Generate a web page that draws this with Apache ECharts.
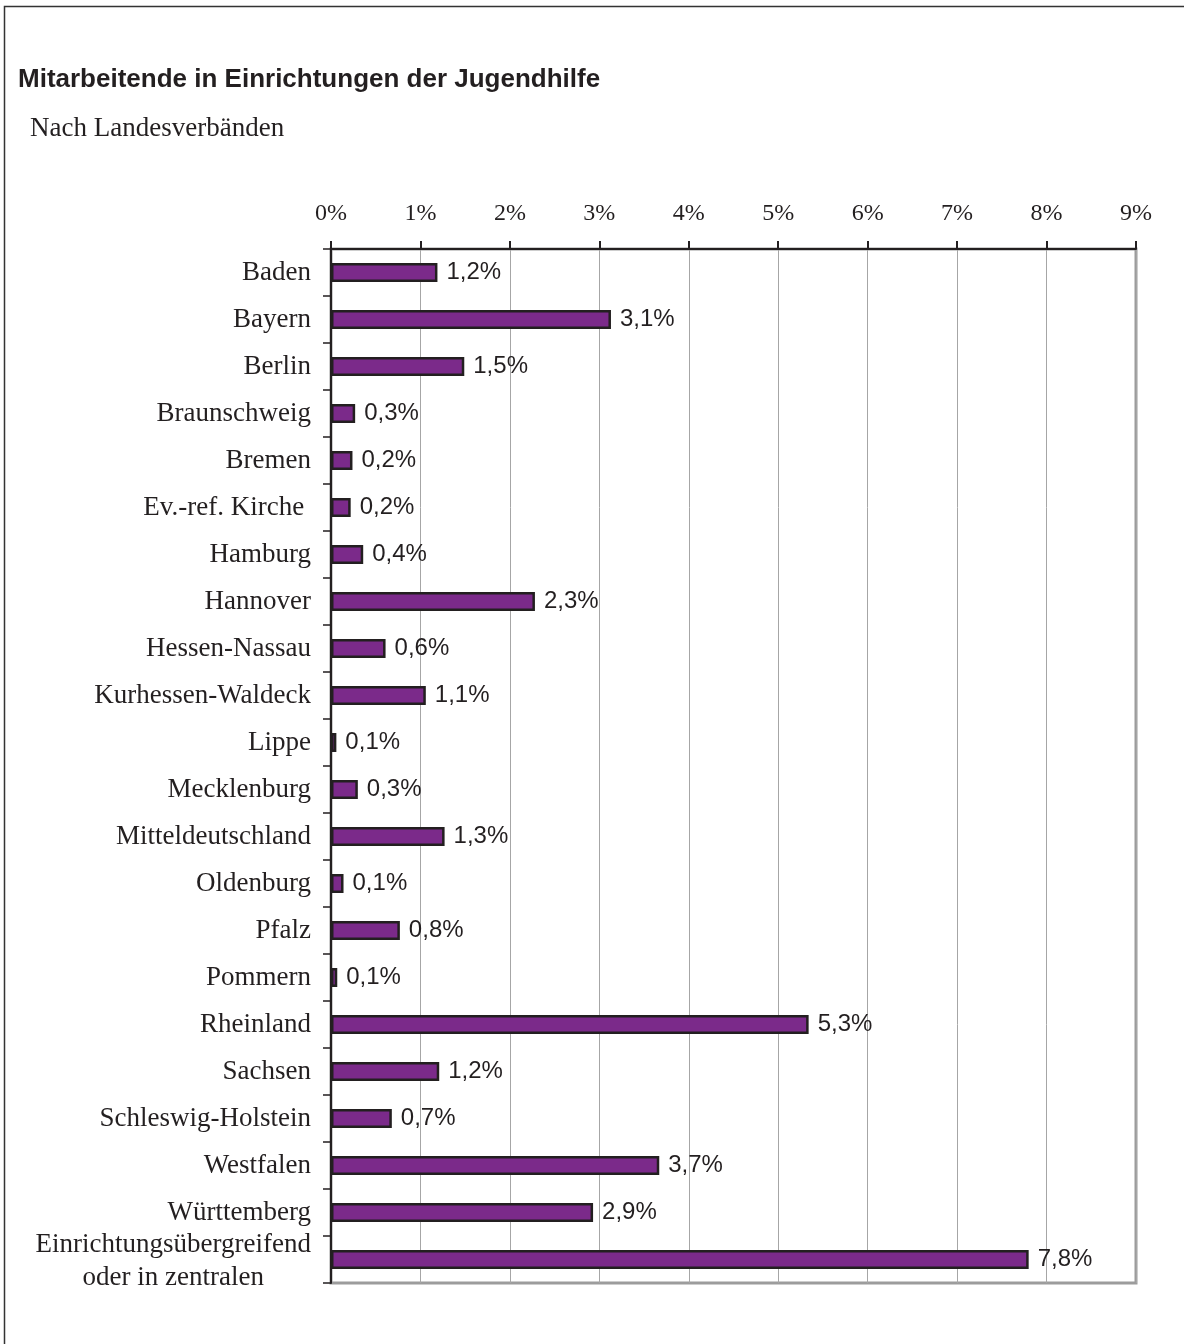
<!DOCTYPE html>
<html>
<head>
<meta charset="utf-8">
<title>Mitarbeitende in Einrichtungen der Jugendhilfe</title>
<script src="https://cdn.jsdelivr.net/npm/echarts@6/dist/echarts.min.js"></script>
<style>
  html, body { margin: 0; padding: 0; background: #fff; }
  #chart { width: 1184px; height: 1344px; }
</style>
</head>
<body>
<div id="chart"></div>
<script>
// Landesverbände (von oben nach unten)
var categories = [
  'Baden', 'Bayern', 'Berlin', 'Braunschweig', 'Bremen', 'Ev.-ref. Kirche ',
  'Hamburg', 'Hannover', 'Hessen-Nassau', 'Kurhessen-Waldeck', 'Lippe',
  'Mecklenburg', 'Mitteldeutschland', 'Oldenburg', 'Pfalz', 'Pommern',
  'Rheinland', 'Sachsen', 'Schleswig-Holstein', 'Westfalen', 'Württemberg',
  'Einrichtungsübergreifend\noder in zentralen'
];
// Anteil in %
var shares = [
  1.19, 3.13, 1.49, 0.27, 0.24, 0.22,
  0.36, 2.28, 0.61, 1.06, 0.06,
  0.30, 1.27, 0.14, 0.77, 0.07,
  5.34, 1.21, 0.68, 3.67, 2.93,
  7.80
];
var xTicks = [0, 1, 2, 3, 4, 5, 6, 7, 8, 9];

var ink = '#231f20';
var serif = '"Liberation Serif", "Times New Roman", serif';
var sans = '"Liberation Sans", Arial, sans-serif';

var chart = echarts.init(document.getElementById('chart'));

chart.setOption({
  backgroundColor: '#fff',
  animation: false,
  title: [
    {
      text: 'Mitarbeitende in Einrichtungen der Jugendhilfe',
      left: 18, top: 67, padding: 0,
      textStyle: { fontFamily: sans, fontSize: 26, fontWeight: 'bold', color: ink }
    },
    {
      text: 'Nach Landesverbänden',
      left: 30, top: 115, padding: 0,
      textStyle: { fontFamily: serif, fontSize: 27, fontWeight: 'normal', color: ink }
    }
  ],
  graphic: [{
    type: 'rect',
    silent: true,
    shape: { x: 4.5, y: 6.5, width: 1190, height: 1350 },
    style: { fill: 'none', stroke: '#333', lineWidth: 1.5 }
  }],
  grid: {
    left: 331, right: 48, top: 249, bottom: 61,
    show: true,
    borderColor: '#9c9c9c',
    borderWidth: 3
  },
  xAxis: {
    type: 'value',
    position: 'top',
    min: xTicks[0],
    max: xTicks[xTicks.length - 1],
    interval: 1,
    axisLine: { show: true, lineStyle: { color: ink, width: 2 } },
    axisTick: { show: true, length: 8, lineStyle: { color: ink, width: 2 } },
    axisLabel: {
      margin: 23,
      fontFamily: serif, fontSize: 24, color: ink,
      formatter: function (v) { return v + '%'; }
    },
    splitLine: { show: true, lineStyle: { color: '#a6a6a6', width: 1 } }
  },
  yAxis: {
    type: 'category',
    data: categories,
    inverse: true,
    axisLine: { show: true, lineStyle: { color: ink, width: 2 } },
    axisTick: { show: true, length: 8, lineStyle: { color: ink, width: 1.5 } },
    axisLabel: {
      interval: 0,
      showMinLabel: true,
      showMaxLabel: true,
      hideOverlap: false,
      margin: 20,
      fontFamily: serif, fontSize: 27, color: ink, lineHeight: 33,
      formatter: function (v) {
        if (v.indexOf('\n') >= 0) {
          return v.split('\n').map(function (s) { return '{c|' + s + '}'; }).join('\n');
        }
        return v;
      },
      rich: {
        c: { align: 'center', fontFamily: serif, fontSize: 27, color: ink, lineHeight: 33, padding: [3, 0, 0, 0] }
      }
    }
  },
  series: [{
    type: 'bar',
    data: shares,
    barWidth: 19,
    itemStyle: { color: '#7b2a8a', borderColor: ink, borderWidth: 2.5 },
    label: {
      show: true,
      position: 'right',
      distance: 9,
      fontFamily: sans, fontSize: 24, color: ink,
      formatter: function (p) { return p.value.toFixed(1).replace('.', ',') + '%'; }
    }
  }]
});
</script>
</body>
</html>
